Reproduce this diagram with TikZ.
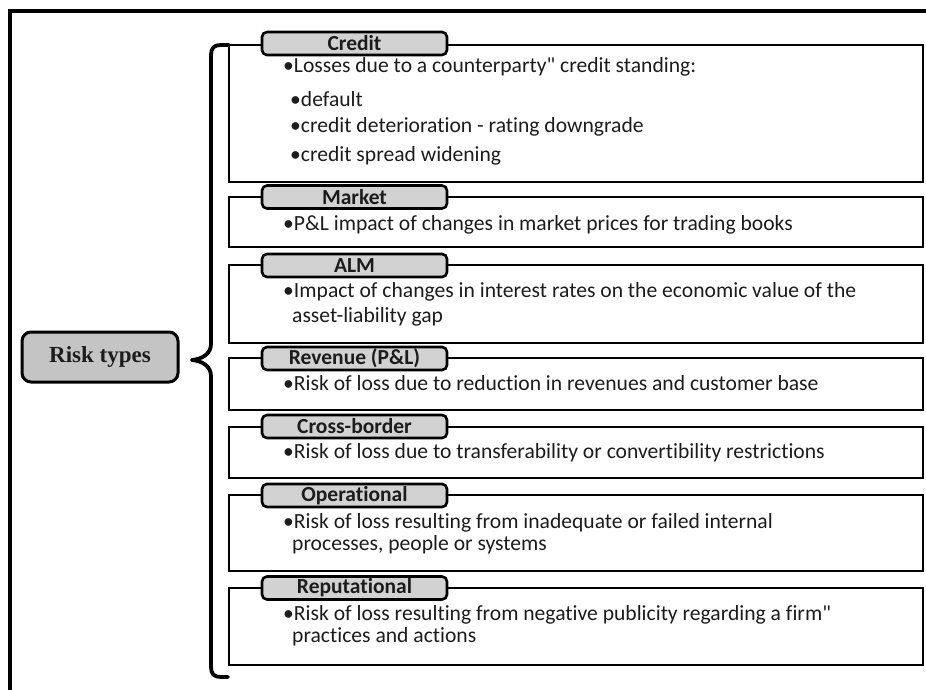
\documentclass[tikz,border=0pt]{standalone}
\usepackage{fontspec}
\setmainfont{Carlito}[Ligatures={TeX,NoCommon}]
\newfontfamily\serifbold{Liberation Serif}
\definecolor{tabfill}{HTML}{D2D2D2}
\definecolor{rootfill}{HTML}{C4C4C4}
\definecolor{inktext}{HTML}{1C1C1C}
\begin{document}
\begin{tikzpicture}[x=1pt,y=-1pt,
  frameline/.style={line width=4pt,black},
  groupbox/.style={draw=black,line width=2.6pt},
  tab/.style={draw=black,line width=2.6pt,fill=tabfill,rounded corners=5pt,
    minimum width=185pt,minimum height=23pt,inner sep=0pt,
    font=\fontsize{21.5}{23}\selectfont\bfseries,text=inktext},
  item/.style={anchor=west,inner sep=0pt,
    font=\fontsize{21.6}{24}\selectfont,text=inktext},
  root/.style={draw=black,line width=3pt,fill=rootfill,rounded corners=9pt,
    minimum width=156pt,minimum height=50pt,inner sep=0pt,
    font=\serifbold\fontsize{23}{26}\selectfont\bfseries,text=inktext},
  bracestroke/.style={line width=3.8pt,black,line cap=round,line join=round}]
\useasboundingbox (0,0) rectangle (926,690);

% outer frame (left and top edges)
\draw[frameline] (10,690) -- (10,11.5) -- (926,11.5);

% root node
\node[root] (risk) at (100,357) {Risk types};

% curly brace joining the groups
\draw[bracestroke] (229,45) -- (221,45)
  .. controls (214,45) and (211,48) .. (211,55)
  -- (211,344)
  .. controls (211,354) and (202,359) .. (192,360)
  .. controls (202,361) and (211,366) .. (211,376)
  -- (211,667)
  .. controls (211,674) and (214,677) .. (221,677) -- (228,677);

% group outlines
\draw[groupbox] (229,45)  rectangle (923,182);
\draw[groupbox] (229,197) rectangle (923,247);
\draw[groupbox] (229,265) rectangle (923,343);
\draw[groupbox] (229,358) rectangle (923,410);
\draw[groupbox] (229,427) rectangle (923,478);
\draw[groupbox] (229,495) rectangle (923,571);
\draw[groupbox] (229,588) rectangle (923,665);

% group titles
\node[tab] (credit) at (354.5,43.5) {Credit};
\node[tab] (market) at (354.5,197) {Market};
\node[tab] (alm)    at (354.5,265.5) {ALM};
\node[tab] (rev)    at (354.5,358.5) {Revenue (P\&L)};
\node[tab] (cross)  at (354.5,426.5) {Cross-border};
\node[tab] (oper)   at (354.5,495.5) {Operational};
\node[tab] (reput)  at (354.5,588) {Reputational};

% group contents
\node[item] (c1) at (283,67)  {•Losses due to a counterparty\textquotedbl{} credit standing:};
\node[item] (c2) at (290,99)  {•default};
\node[item] (c3) at (290,127) {•credit deterioration - rating downgrade};
\node[item] (c4) at (290,156) {•credit spread widening};

\node[item] (m1) at (283,225) {•P\&L impact of changes in market prices for trading books};

\node[item] (a1) at (283,292) {•Impact of changes in interest rates on the economic value of the};
\node[item] (a2) at (292,317) {asset-liability gap};

\node[item] (r1) at (283,383) {•Risk of loss due to reduction in revenues and customer base};

\node[item] (x1) at (283,453) {•Risk of loss due to transferability or convertibility restrictions};

\node[item] (o1) at (283,523) {•Risk of loss resulting from inadequate or failed internal};
\node[item] (o2) at (292,545) {processes, people or systems};

\node[item] (p1) at (283,615) {•Risk of loss resulting from negative publicity regarding a firm\textquotedbl};
\node[item] (p2) at (292,637) {practices and actions};
\end{tikzpicture}
\end{document}
